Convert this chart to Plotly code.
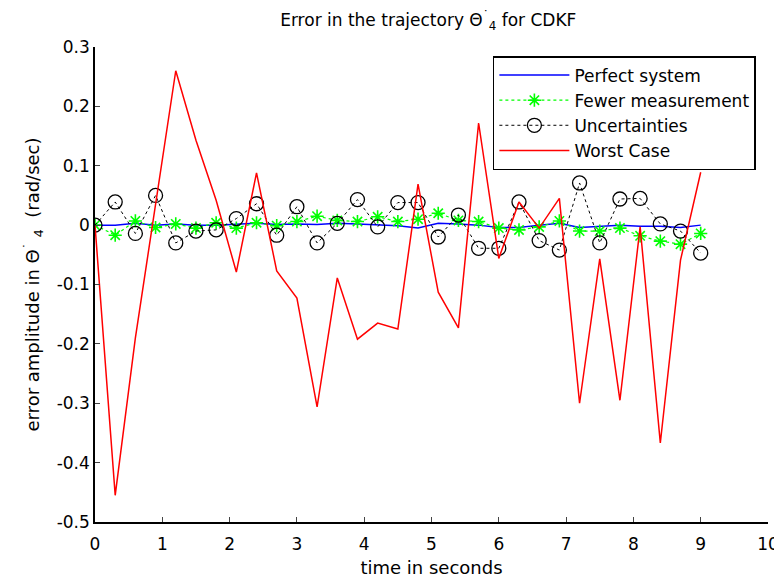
import plotly.graph_objects as go

# time samples (s)
t = [0.0, 0.3, 0.6, 0.9, 1.2, 1.5, 1.8, 2.1, 2.4, 2.7, 3.0, 3.3, 3.6, 3.9, 4.2, 4.5,
     4.8, 5.1, 5.4, 5.7, 6.0, 6.3, 6.6, 6.9, 7.2, 7.5, 7.8, 8.1, 8.4, 8.7, 9.0]

perfect = [0.0, 0.0, 0.003, 0.0, 0.002, 0.0, 0.0, 0.002, 0.003, 0.001, 0.002, 0.001,
           0.003, 0.002, 0.0, -0.001, -0.005, 0.003, 0.002, 0.0, -0.004, -0.004, 0.0,
           0.003, -0.004, -0.002, 0.0, -0.002, -0.002, -0.004, 0.0]

fewer = [0.0, -0.017, 0.007, -0.004, 0.002, -0.005, 0.004, -0.005, 0.004, -0.001,
         0.006, 0.015, 0.008, 0.006, 0.014, 0.006, 0.010, 0.020, 0.008, 0.006, -0.005,
         -0.008, -0.003, 0.007, -0.010, -0.010, -0.005, -0.018, -0.027, -0.032, -0.014]

uncert = [0.0, 0.039, -0.014, 0.050, -0.030, -0.010, -0.008, 0.011, 0.036, -0.017,
          0.031, -0.030, 0.003, 0.043, -0.003, 0.038, 0.038, -0.020, 0.017, -0.039,
          -0.039, 0.039, -0.026, -0.042, 0.071, -0.030, 0.044, 0.045, 0.002, -0.010,
          -0.047]

worst = [0.0, -0.455, -0.190, 0.035, 0.260, 0.143, 0.042, -0.079, 0.088, -0.077,
         -0.123, -0.306, -0.089, -0.192, -0.165, -0.175, 0.069, -0.113, -0.173, 0.172,
         -0.056, 0.039, -0.005, 0.045, -0.300, -0.057, -0.295, -0.003, -0.367, -0.059,
         0.089]

x_ticks = [0, 1, 2, 3, 4, 5, 6, 7, 8, 9, 10]
y_ticks = [-0.5, -0.4, -0.3, -0.2, -0.1, 0, 0.1, 0.2, 0.3]
y_tick_text = ['-0.5', '-0.4', '-0.3', '-0.2', '-0.1', '0', '0.1', '0.2', '0.3']

FONT = 'DejaVu Sans'

fig = go.Figure()
fig.add_trace(go.Scatter(x=t, y=perfect, mode='lines', name='Perfect system',
                         line=dict(color='#0000ff', width=1.5)))
fig.add_trace(go.Scatter(x=t, y=fewer, mode='lines+markers', name='Fewer measurement',
                         line=dict(color='#00ff00', width=1.2, dash='dot'),
                         marker=dict(symbol='asterisk-open', size=11,
                                     line=dict(color='#00ff00', width=1.6))))
fig.add_trace(go.Scatter(x=t, y=uncert, mode='lines+markers', name='Uncertainties',
                         line=dict(color='black', width=1, dash='dot'),
                         marker=dict(symbol='circle-open', size=14, color='black',
                                     line=dict(color='black', width=1.3))))
fig.add_trace(go.Scatter(x=t, y=worst, mode='lines', name='Worst Case',
                         line=dict(color='#ff0000', width=1.5)))

# the page body adds 8px around the figure, so the figure is 8px smaller here
fig.update_layout(
    width=774, height=570,
    margin=dict(l=87, r=14, t=39, b=56),
    paper_bgcolor='white', plot_bgcolor='white',
    font=dict(family=FONT, size=16, color='black'),
    title=dict(text='Error in the trajectory Θ<sup>˙</sup><sub>4</sub> for CDKF',
               x=0.543, xanchor='center', y=0.978, yanchor='middle',
               font=dict(family=FONT, size=17)),
    legend=dict(x=0.982, xanchor='right', y=0.981, yanchor='top',
                bgcolor='white', bordercolor='black', borderwidth=1.5,
                font=dict(family=FONT, size=17), tracegroupgap=0,
                itemwidth=70),
)
fig.update_xaxes(range=[0, 10], tickvals=x_ticks, ticks='inside', ticklen=5,
                 showline=True, linecolor='black', linewidth=1.5, showgrid=False,
                 zeroline=False, tickfont=dict(size=17), ticklabelstandoff=6,
                 automargin=False,
                 title=dict(text='time in seconds', font=dict(size=18), standoff=14))
fig.update_yaxes(range=[-0.5, 0.3], tickvals=y_ticks, ticktext=y_tick_text,
                 ticks='inside', ticklen=5, showline=True, linecolor='black',
                 linewidth=1.5, showgrid=False, zeroline=False, tickfont=dict(size=17),
                 automargin=False,
                 title=dict(text='error amplitude in Θ<sup>˙</sup> <sub>4</sub>  (rad/sec)',
                            font=dict(size=18), standoff=12))

fig.write_html('out.html')
